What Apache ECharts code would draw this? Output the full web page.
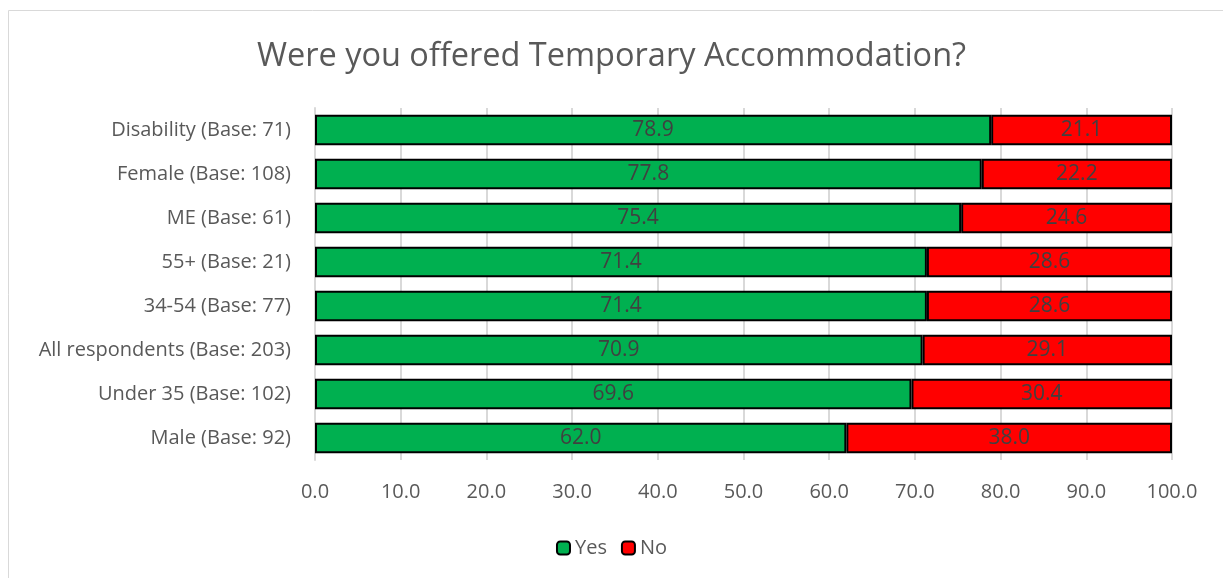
<!DOCTYPE html>
<html><head><meta charset="utf-8">
<script src="https://cdn.jsdelivr.net/npm/echarts@6/dist/echarts.min.js"></script>
<style>html,body{margin:0;padding:0;background:#fff}#c{width:1223px;height:578px}</style>
</head><body><div id="c"></div>
<script>
const categories = ["Disability (Base: 71)","Female (Base: 108)","ME (Base: 61)","55+ (Base: 21)","34-54 (Base: 77)","All respondents (Base: 203)","Under 35 (Base: 102)","Male (Base: 92)"];
const yesValues = [78.9,77.8,75.4,71.4,71.4,70.9,69.6,62.0];
const noValues = [21.1,22.2,24.6,28.6,28.6,29.1,30.4,38.0];
const xTicks = [0,10,20,30,40,50,60,70,80,90,100];
const font = "'Open Sans', 'Liberation Sans', sans-serif";
const txt = '#595959';
const chart = echarts.init(document.getElementById('c'));
const lbl = {show:true, position:'inside', color:'#404040', fontSize:21, fontFamily:font, formatter:p=>p.value.toFixed(1)};
chart.setOption({
  animation:false,
  graphic:[{type:'rect', shape:{x:8.5,y:10.5,width:1230,height:580}, style:{fill:'none', stroke:'#d9d9d9', lineWidth:1}}],
  title:{text:'Were you offered Temporary Accommodation?', left:'center', top:35, textStyle:{color:txt, fontSize:32.5, fontWeight:'normal', fontFamily:font}},
  legend:{bottom:15, left:'center', itemWidth:13, itemHeight:13, itemGap:14, textStyle:{color:txt, fontSize:20, fontFamily:font}, data:['Yes','No']},
  grid:{left:315, right:51, top:108, height:352, containLabel:false},
  xAxis:{type:'value', min:0, max:100, interval:10,
    axisLabel:{color:txt, fontSize:20, fontFamily:font, margin:22, formatter:v=>v.toFixed(1)},
    splitLine:{show:true, lineStyle:{color:'#d9d9d9', width:2}}, axisLine:{show:false}, axisTick:{show:false}},
  yAxis:{type:'category', data:categories, inverse:true,
    axisLabel:{color:txt, fontSize:20, fontFamily:font, margin:24},
    axisLine:{show:true, lineStyle:{color:'#d9d9d9', width:2}}, axisTick:{show:false}},
  series:[
    {name:'Yes', type:'bar', stack:'t', data:yesValues, barCategoryGap:'31%', itemStyle:{color:'#00b050', borderColor:'#000', borderWidth:2}, label:lbl},
    {name:'No', type:'bar', stack:'t', data:noValues, itemStyle:{color:'#ff0000', borderColor:'#000', borderWidth:2}, label:lbl}
  ]
});
</script></body></html>
